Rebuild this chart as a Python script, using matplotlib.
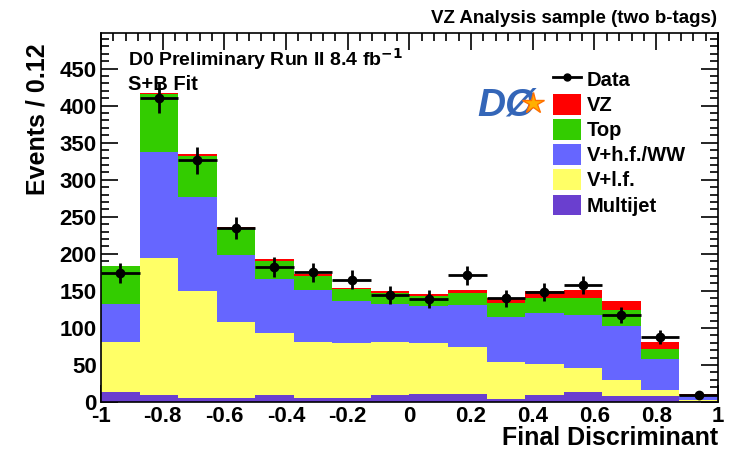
import matplotlib
matplotlib.use("Agg")
import matplotlib.pyplot as plt
import numpy as np
from matplotlib.patches import Patch
from matplotlib.lines import Line2D
from matplotlib.ticker import MultipleLocator

plt.rcParams['font.family'] = ['Liberation Sans', 'DejaVu Sans']
plt.rcParams['font.weight'] = 'bold'

# bin edges of the final discriminant, 16 bins from -1 to 1
edges = np.linspace(-1, 1, 17)

# background + signal components (events per bin), stacked bottom -> top
multijet = [13, 10, 5, 5, 9, 6, 6, 9.5, 10.5, 10.5, 4, 9.5, 14, 8.5, 8.5, 2]
vlf = [68, 185, 145, 103, 84, 75, 74, 71, 69, 64, 50, 42, 32, 21.5, 8, 1]
vhf_ww = [51, 143, 127, 90, 73, 70, 57, 52, 50, 56, 61, 69, 72, 72.5, 42, 5]
top = [51, 78, 55, 35, 24, 19, 15, 14, 13, 16.5, 18, 19.5, 23, 21.5, 12.5, 1]
vz = [1, 1, 3, 3, 3, 2.5, 2.5, 3, 3.5, 4, 8, 9.5, 10, 13, 10, 2]

data = [174, 411, 326, 235, 182, 175, 165, 144, 139, 171, 140, 148, 158, 117, 88, 9]

components = [
    ("Multijet", multijet, "#6a3fcf"),
    ("V+l.f.", vlf, "#ffff66"),
    ("V+h.f./WW", vhf_ww, "#6666ff"),
    ("Top", top, "#33cc00"),
    ("VZ", vz, "#ff0000"),
]

fig = plt.figure(figsize=(7.47, 4.53), dpi=100)
ax = fig.add_axes([0.1352, 0.1126, 0.961 - 0.1352, 0.927 - 0.1126])

width = np.diff(edges)
bottom = np.zeros(len(width))
for name, vals, col in components:
    vals = np.array(vals, dtype=float)
    ax.bar(edges[:-1], vals, width=width, bottom=bottom, align='edge',
           color=col, linewidth=0, zorder=1)
    bottom += vals

centers = 0.5 * (edges[:-1] + edges[1:])
data = np.array(data, dtype=float)
ax.errorbar(centers, data, yerr=np.sqrt(data), xerr=width / 2, fmt='o',
            color='black', ms=6, elinewidth=2, capsize=0, zorder=5)

ax.set_xlim(-1, 1)
ax.set_ylim(0, 498)
ax.set_axisbelow(True)
ax.xaxis.set_major_locator(MultipleLocator(0.2))
ax.xaxis.set_minor_locator(MultipleLocator(0.04))
ax.yaxis.set_major_locator(MultipleLocator(50))
ax.yaxis.set_minor_locator(MultipleLocator(10))
ax.tick_params(which='both', direction='in', top=True, right=True,
               labelsize=16, width=1.2, pad=3)
ax.tick_params(which='major', length=12)
ax.tick_params(which='minor', length=6)
ax.set_xticks(np.arange(-1, 1.01, 0.2))
ax.set_xticklabels(['-1', '-0.8', '-0.6', '-0.4', '-0.2', '0',
                    '0.2', '0.4', '0.6', '0.8', '1'])
for s in ax.spines.values():
    s.set_linewidth(1.2)

ax.set_xlabel('Final Discriminant', fontsize=18, fontweight='bold')
ax.xaxis.set_label_coords(1.0, -0.065)
ax.xaxis.label.set_horizontalalignment('right')
fig.text(38 / 747, 1 - 43 / 453, 'Events / 0.12', rotation=90, ha='center',
         va='top', fontsize=18, fontweight='bold')

fig.text(0.96, 0.96, 'VZ Analysis sample (two b-tags)', ha='right',
         va='center', fontsize=13.5, fontweight='bold')
ax.text(0.043, 0.93, r'D0 Preliminary Run II 8.4 fb$^{\mathbf{-1}}$',
        transform=ax.transAxes, fontsize=14, fontweight='bold', va='center')
ax.text(0.043, 0.86, 'S+B Fit', transform=ax.transAxes, fontsize=14.5,
        fontweight='bold', va='center')

# stand-in for the D0 logo
ax.text(0.61, 0.805, 'DØ', transform=ax.transAxes, fontsize=28,
        fontweight='heavy', style='italic', color='#3466b8', va='center')
ax.plot([0.70], [0.81], transform=ax.transAxes, marker='*', ms=16,
        color='#ffb000', mec='#ff7000', zorder=6)

handles = [Line2D([], [], color='black', marker='o', ms=5, lw=2)]
labels = ['Data']
for name, vals, col in components[::-1]:
    handles.append(Patch(facecolor=col, edgecolor='none'))
    labels.append(name)
ax.legend(handles, labels, loc='upper left', bbox_to_anchor=(0.72, 0.925),
          frameon=False, fontsize=14.5, handlelength=1.4, handleheight=1.2,
          handletextpad=0.25, labelspacing=0.2, borderaxespad=0)

fig.savefig('out.png', dpi=100)
